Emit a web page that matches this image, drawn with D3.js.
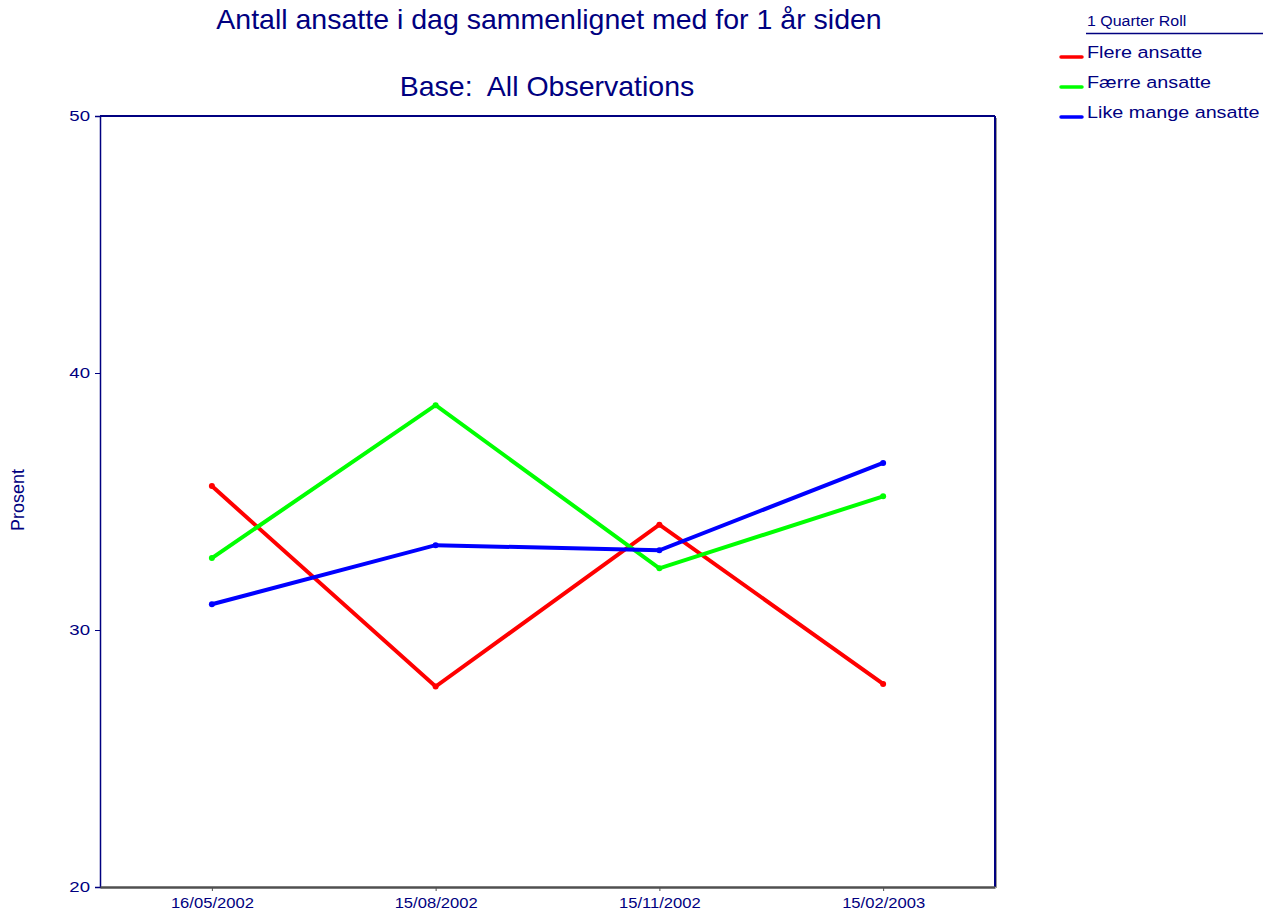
<!DOCTYPE html>
<html><head><meta charset="utf-8">
<script src="https://cdn.jsdelivr.net/npm/d3@7"></script>
<style>body{margin:0;background:#fff}svg{display:block}text{font-family:"Liberation Sans",Arial,sans-serif}</style>
</head><body><svg id="c" width="1263" height="911"></svg>
<script>
const categories = ["16/05/2002","15/08/2002","15/11/2002","15/02/2003"];
const flere = [35.6, 27.8, 34.1, 27.9];
const faerre = [32.8, 38.75, 32.4, 35.2];
const likeMange = [31.0, 33.3, 33.1, 36.5];
const seriesNames = ["Flere ansatte","Færre ansatte","Like mange ansatte"];
const seriesColors = ["#ff0000","#00ff00","#0000ff"];
const yTicks = [20,30,40,50];
const series = [flere, faerre, likeMange];
const navy = "#000080";

const svg = d3.select("#c");
const L=100, R=995, T=116, B=887;
const x = d3.scalePoint().domain(categories).range([L,R]).padding(0.5);
const y = d3.scaleLinear().domain([20,50]).range([B,T]);

// frame
svg.append("line").attr("x1",L).attr("x2",R).attr("y1",T).attr("y2",T).attr("stroke",navy).attr("stroke-width",2);
svg.append("line").attr("x1",R).attr("x2",R).attr("y1",T).attr("y2",B).attr("stroke",navy).attr("stroke-width",2);
svg.append("line").attr("x1",R+1.5).attr("x2",R+1.5).attr("y1",T+2).attr("y2",B+1).attr("stroke","#999").attr("stroke-width",1);

// y axis
const ysx = 1.2;
const ya = svg.append("g").attr("transform",`translate(${L},0)`)
  .call(d3.axisLeft(y).tickValues(yTicks).tickSize(5).tickPadding(4).tickFormat(d3.format("d")));
ya.select(".domain").attr("stroke",navy).attr("stroke-width",1.5);
ya.selectAll(".tick line").attr("stroke",navy);
ya.selectAll("text").attr("fill",navy).style("font-size","15.5px").style("font-family","Liberation Sans, Arial, sans-serif")
  .attr("x",-10/ysx).attr("transform",`scale(${ysx},1)`);

// x axis
const xsx = 1.07;
const xa = svg.append("g").attr("transform",`translate(0,${B})`)
  .call(d3.axisBottom(x).tickSize(4).tickPadding(6).tickSizeOuter(0));
xa.select(".domain").attr("stroke","#505050").attr("stroke-width",2.5);
xa.selectAll(".tick line").attr("stroke","#505050");
xa.selectAll("text").attr("fill",navy).style("font-size","15.5px").style("font-family","Liberation Sans, Arial, sans-serif")
  .attr("transform",`scale(${xsx},1)`);

// lines
const line = d3.line().x((d,i)=>x(categories[i])).y(d=>y(d));
series.forEach((s,k)=>{
  svg.append("path").datum(s).attr("d",line).attr("fill","none")
    .attr("stroke",seriesColors[k]).attr("stroke-width",4).attr("stroke-linejoin","miter");
  svg.selectAll(null).data(s).enter().append("circle")
    .attr("cx",(d,i)=>x(categories[i])).attr("cy",d=>y(d)).attr("r",3).attr("fill",seriesColors[k]);
});

// titles
svg.append("text").attr("x",549).attr("y",29).attr("text-anchor","middle").attr("fill",navy)
  .style("font-size","28.5px").text("Antall ansatte i dag sammenlignet med for 1 år siden");
svg.append("text").attr("x",547).attr("y",96).attr("text-anchor","middle").attr("fill",navy)
  .style("font-size","28.5px").style("white-space","pre").text("Base:  All Observations");
svg.append("text").attr("transform","translate(24,500) rotate(-90)").attr("text-anchor","middle").attr("fill",navy)
  .style("font-size","18px").text("Prosent");

// legend
svg.append("text").attr("transform","translate(1087,26) scale(1.1,1)").attr("fill",navy).style("font-size","14.5px").text("1 Quarter Roll");
svg.append("line").attr("x1",1086).attr("x2",1263).attr("y1",33.5).attr("y2",33.5).attr("stroke",navy).attr("stroke-width",1.5);
const ly = [57,87,117];
seriesNames.forEach((n,k)=>{
  svg.append("line").attr("x1",1061).attr("x2",1082).attr("y1",ly[k]).attr("y2",ly[k])
    .attr("stroke",seriesColors[k]).attr("stroke-width",3.5).attr("stroke-linecap","round");
  svg.append("text").attr("transform",`translate(1087,${ly[k]+1}) scale(1.15,1)`).attr("fill",navy).style("font-size","17.2px").text(n);
});
</script></body></html>
